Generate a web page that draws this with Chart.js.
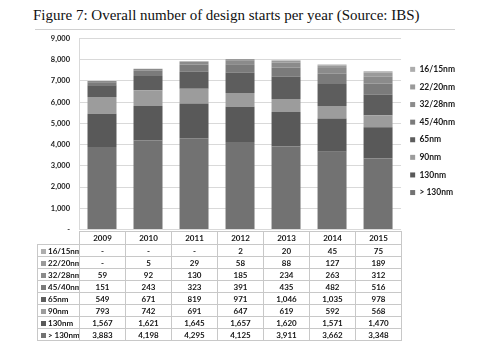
<!DOCTYPE html>
<html>
<head>
<meta charset="utf-8">
<script src="https://cdn.jsdelivr.net/npm/chart.js@4/dist/chart.umd.min.js"></script>
<style>
  body { margin: 0; background: #fff; width: 477px; height: 347px; overflow: hidden; position: relative; }
  #title { position: absolute; left: 33px; top: 7px; font: 15px "Liberation Serif", "Times New Roman", serif; color: #111; white-space: nowrap; }
  #rule { position: absolute; left: 35px; top: 29px; width: 420px; height: 0; border-top: 1px solid #d0d0d0; }
  #wrap { position: absolute; left: 0; top: 25px; width: 477px; height: 218px; }
  #tbl { position: absolute; left: 37px; top: 231px; border-collapse: collapse; font: bold 8px Lato, "Liberation Sans", sans-serif; color: #151515; table-layout: fixed; background: transparent; }
  #tbl td { border: 1px solid #c8c8c8; height: 11px; padding: 0; text-align: center; white-space: nowrap; overflow: hidden; }
  #tbl td.lab { text-align: left; padding-left: 3px; }
  #tbl tr:first-child td { height: 12px; }
  #tbl tr:first-child td:first-child { border-left-color: transparent; border-top-color: transparent; }
  .mk { display: inline-block; width: 5px; height: 5px; margin-right: 2px; vertical-align: 0px; }
</style>
</head>
<body>
<div id="title">Figure 7: Overall number of design starts per year (Source: IBS)</div>
<div id="rule"></div>
<div id="wrap"><canvas id="chart"></canvas></div>
<table id="tbl"></table>
<script>
const years = ['2009', '2010', '2011', '2012', '2013', '2014', '2015'];
const nodeLabels = ['> 130nm', '130nm', '90nm', '65nm', '45/40nm', '32/28nm', '22/20nm', '16/15nm'];
const above130 = [3883, 4198, 4295, 4125, 3911, 3662, 3348];
const nm130 = [1567, 1621, 1645, 1657, 1620, 1571, 1470];
const nm90 = [793, 742, 691, 647, 619, 592, 568];
const nm65 = [549, 671, 819, 971, 1046, 1035, 978];
const nm45 = [151, 243, 323, 391, 435, 482, 516];
const nm32 = [59, 92, 130, 185, 234, 263, 312];
const nm22 = [null, 5, 29, 58, 88, 127, 189];
const nm16 = [null, null, null, 2, 20, 45, 75];
const yTicks = [0, 1000, 2000, 3000, 4000, 5000, 6000, 7000, 8000, 9000];

const series = [above130, nm130, nm90, nm65, nm45, nm32, nm22, nm16];
const colors = ['#727272', '#595959', '#9c9c9c', '#5d5d5d', '#7b7b7b', '#8b8b8b', '#9a9a9a', '#adadad'];
const fmt = v => v == null ? '-' : v.toLocaleString('en-US');

function buildTable(chart) {
  const x = chart.scales.x;
  const colW = (x.right - x.left) / years.length;
  const firstW = chart.chartArea.left - 37;
  let html = '<colgroup><col style="width:' + firstW + 'px">';
  years.forEach(() => { html += '<col style="width:' + colW + 'px">'; });
  html += '</colgroup><tr><td></td>' + years.map(y => '<td>' + y + '</td>').join('') + '</tr>';
  for (let i = series.length - 1; i >= 0; i--) {
    html += '<tr><td class="lab"><span class="mk" style="background:' + colors[i] + '"></span>' + nodeLabels[i] + '</td>';
    html += series[i].map(v => '<td>' + fmt(v) + '</td>').join('') + '</tr>';
  }
  const t = document.getElementById('tbl');
  t.innerHTML = html;
  t.style.width = (firstW + colW * years.length) + 'px';
}

const tablePlugin = {
  id: 'tablePlugin',
  afterRender(chart) {
    if (!chart._tableDone) { chart._tableDone = true; buildTable(chart); }
  }
};

new Chart(document.getElementById('chart'), {
  type: 'bar',
  data: {
    labels: years,
    datasets: series.map((d, i) => ({
      label: nodeLabels[i],
      data: d,
      backgroundColor: colors[i],
      borderWidth: 0,
      categoryPercentage: 1,
      barPercentage: 0.63
    }))
  },
  options: {
    responsive: true,
    maintainAspectRatio: false,
    animation: false,
    layout: { padding: { left: 0, right: 12, top: 0, bottom: 0 } },
    plugins: {
      tooltip: { enabled: false },
      legend: {
        position: 'right',
        align: 'start',
        reverse: true,
        // empty title only pushes the item list down to where the reference has it
        title: { display: true, text: ' ', font: { size: 10 }, padding: { top: 0, bottom: 19 } },
        labels: {
          boxWidth: 5,
          boxHeight: 5,
          padding: 9.1,
          color: '#1a1a1a',
          font: { family: 'Lato, "Liberation Sans", sans-serif', size: 8.5, weight: 'bold' }
        }
      }
    },
    scales: {
      x: {
        display: false,
        stacked: true
      },
      y: {
        stacked: true,
        min: 0,
        max: 9000,
        afterFit(scale) { scale.width = 79; },
        afterBuildTicks(scale) { scale.ticks = yTicks.map(v => ({ value: v })); },
        ticks: {
          padding: 9,
          color: '#222',
          font: { family: 'Lato, "Liberation Sans", sans-serif', size: 7.5, weight: 'bold' },
          callback: v => v === 0 ? '-' : v.toLocaleString('en-US')
        },
        grid: { color: '#d9d9d9', drawTicks: false },
        border: { color: '#d9d9d9' }
      }
    }
  },
  plugins: [tablePlugin]
});
</script>
</body>
</html>
